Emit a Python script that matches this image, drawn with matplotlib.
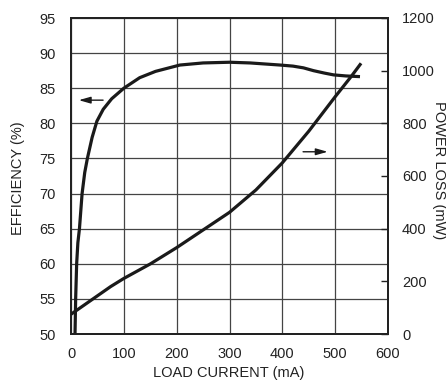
import matplotlib
matplotlib.use("Agg")
import matplotlib.pyplot as plt

plt.rcParams['font.family'] = ['Liberation Sans', 'DejaVu Sans']

# Efficiency (left axis)
eff_current = [7.6, 8.8, 10.7, 13, 16, 21, 26, 31, 40, 49, 61, 77, 100, 130, 160, 206, 250, 300, 339, 396, 420, 440, 459, 480, 497, 520, 547]
eff_values = [50, 55, 60, 63, 65, 70, 73, 75, 78, 80.3, 82, 83.5, 85, 86.5, 87.4, 88.3, 88.6, 88.7, 88.6, 88.3, 88.15, 87.9, 87.5, 87.15, 86.9, 86.75, 86.65]

# Power loss (right axis)
loss_current = [0, 25, 50, 75, 100, 150, 200, 250, 300, 350, 400, 450, 500, 530, 549]
loss_values = [75, 110, 145, 180, 211, 266, 328, 395, 462, 547, 650, 770, 901, 977, 1028]

x_ticks = [0, 100, 200, 300, 400, 500, 600]
eff_ticks = [50, 55, 60, 65, 70, 75, 80, 85, 90, 95]
loss_ticks = [0, 200, 400, 600, 800, 1000, 1200]

fig = plt.figure(figsize=(4.46, 3.85), dpi=100)
ax = fig.add_axes([71/446, 51/385, 317/446, 316/385])
ax2 = ax.twinx()

fs = 10.5
ax.set_xlim(0, 600)
ax.set_ylim(50, 95)
ax.set_xticks(x_ticks)
ax.set_yticks(eff_ticks)
ax.tick_params(axis='both', length=0, labelsize=fs, colors='#222222')
ax.tick_params(axis='y', pad=11)
ax.tick_params(axis='x', pad=9)
ax.grid(True, color='#444444', linewidth=0.9)
ax.set_axisbelow(True)
for s in ax.spines.values():
    s.set_linewidth(1.4)
    s.set_color('#222222')

ax2.set_ylim(0, 1200)
ax2.set_yticks(loss_ticks)
ax2.tick_params(axis='y', direction='in', length=5, width=1.0, pad=10, labelsize=fs, colors='#222222')
for s in ax2.spines.values():
    s.set_linewidth(1.4)
    s.set_color('#222222')

ax.plot(eff_current, eff_values, color='#1a1a1a', linewidth=2.3, solid_capstyle='butt', solid_joinstyle='round', zorder=3)
ax2.plot(loss_current, loss_values, color='#1a1a1a', linewidth=2.3, solid_capstyle='butt', solid_joinstyle='round', zorder=3)

ax.annotate('', xy=(9.5, 83.3), xytext=(66, 83.3),
            arrowprops=dict(arrowstyle='-|>,head_length=0.7,head_width=0.2', color='#1a1a1a', lw=1.0))
ax2.annotate('', xy=(491, 692), xytext=(434, 692),
             arrowprops=dict(arrowstyle='-|>,head_length=0.7,head_width=0.2', color='#1a1a1a', lw=1.0))

fig.text(18/446, 1 - 178/385, 'EFFICIENCY (%)', rotation=90, ha='center', va='center', fontsize=fs, color='#222222')
fig.text(439/446, 1 - 170/385, 'POWER LOSS (mW)', rotation=-90, ha='center', va='center', fontsize=fs, color='#222222')
fig.text(229/446, 1 - 373/385, 'LOAD CURRENT (mA)', ha='center', va='center', fontsize=fs, color='#222222')

fig.savefig('out.png', dpi=100)
